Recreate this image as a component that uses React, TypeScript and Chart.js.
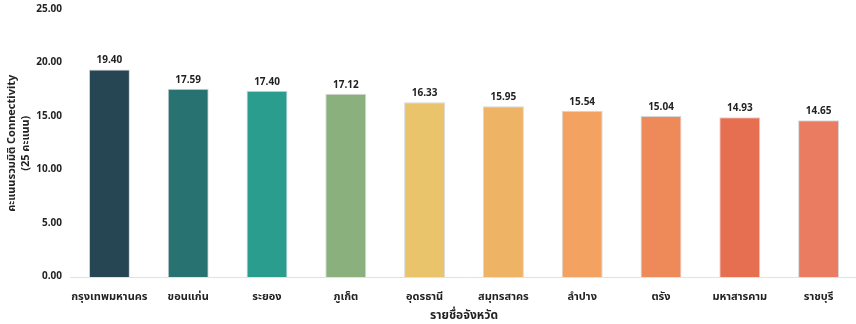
import React, { useEffect, useRef } from "react";
import { Chart, registerables } from "chart.js";

Chart.register(...registerables);

// Provinces and their Connectivity dimension scores (out of 25)
const provinces: string[] = [
  "กรุงเทพมหานคร",
  "ขอนแก่น",
  "ระยอง",
  "ภูเก็ต",
  "อุดรธานี",
  "สมุทรสาคร",
  "ลำปาง",
  "ตรัง",
  "มหาสารคาม",
  "ราชบุรี",
];
const scores: number[] = [19.4, 17.59, 17.4, 17.12, 16.33, 15.95, 15.54, 15.04, 14.93, 14.65];
const barColors: string[] = [
  "#264653",
  "#287271",
  "#2a9d8f",
  "#8ab17d",
  "#e9c46a",
  "#efb366",
  "#f4a261",
  "#ee8959",
  "#e76f51",
  "#e97c61",
];
const yTitleLines: string[] = ["คะแนนรวมมิติ Connectivity", "(25 คะแนน)"];
const xTitle = "รายชื่อจังหวัด";

const FONT = "'Noto Sans Thai', 'Noto Sans', sans-serif";

// Prints each bar's value above it
const valueLabels = {
  id: "valueLabels",
  afterDatasetsDraw(chart: any) {
    const { ctx } = chart;
    const meta = chart.getDatasetMeta(0);
    ctx.save();
    ctx.font = `bold 10px ${FONT}`;
    ctx.fillStyle = "#222";
    ctx.textAlign = "center";
    ctx.textBaseline = "bottom";
    meta.data.forEach((bar: any, i: number) => {
      const v = chart.data.datasets[0].data[i] as number;
      ctx.fillText(v.toFixed(2), bar.x, bar.y - 3);
    });
    ctx.restore();
  },
};

export default function App() {
  const canvasRef = useRef<HTMLCanvasElement | null>(null);

  useEffect(() => {
    document.body.style.margin = "0";
    document.body.style.overflow = "hidden";
    const canvas = canvasRef.current;
    if (!canvas) return;
    const chart = new Chart(canvas, {
      type: "bar",
      data: {
        labels: provinces,
        datasets: [
          {
            data: scores,
            backgroundColor: barColors,
            borderColor: "#d8d8d8",
            borderWidth: 1,
            barPercentage: 0.52,
            categoryPercentage: 1,
          },
        ],
      },
      options: {
        animation: false,
        responsive: false,
        maintainAspectRatio: false,
        layout: { padding: { top: 9.5, right: 0, left: 0, bottom: 0 } },
        plugins: {
          legend: { display: false },
          tooltip: { enabled: false },
        },
        scales: {
          x: {
            grid: { display: false, drawTicks: false },
            border: { display: true, color: "#e2e2e2", width: 1 },
            ticks: {
              color: "#222",
              font: { family: FONT, size: 11, weight: "bold" },
              padding: 14,
              maxRotation: 0,
              autoSkip: false,
            },
            title: {
              display: true,
              text: xTitle,
              color: "#222",
              font: { family: FONT, size: 12, weight: "bold" },
              padding: { top: 3, bottom: 0 },
            },
            afterFit(scale: any) {
              scale.height = 47;
              scale.paddingLeft = 0;
              scale.paddingRight = 0;
            },
          },
          y: {
            min: 0,
            max: 25,
            grid: { display: false, drawTicks: false },
            border: { display: false },
            ticks: {
              stepSize: 5,
              color: "#222",
              font: { family: FONT, size: 10, weight: "bold" },
              padding: 8,
              callback: (v: any) => Number(v).toFixed(2),
            },
            title: {
              display: true,
              text: yTitleLines,
              color: "#222",
              font: { family: FONT, size: 11, weight: "bold", lineHeight: 1.25 },
              padding: { top: 6, bottom: 4 },
            },
            afterFit(scale: any) {
              scale.width = 70;
              scale.paddingTop = 0;
              scale.paddingBottom = 0;
            },
          },
        },
      },
      plugins: [valueLabels],
    });
    return () => chart.destroy();
  }, []);

  return (
    <div style={{ width: 856, height: 324, overflow: "hidden", position: "relative" }}>
      <canvas ref={canvasRef} width={858} height={324} style={{ display: "block" }} />
    </div>
  );
}
